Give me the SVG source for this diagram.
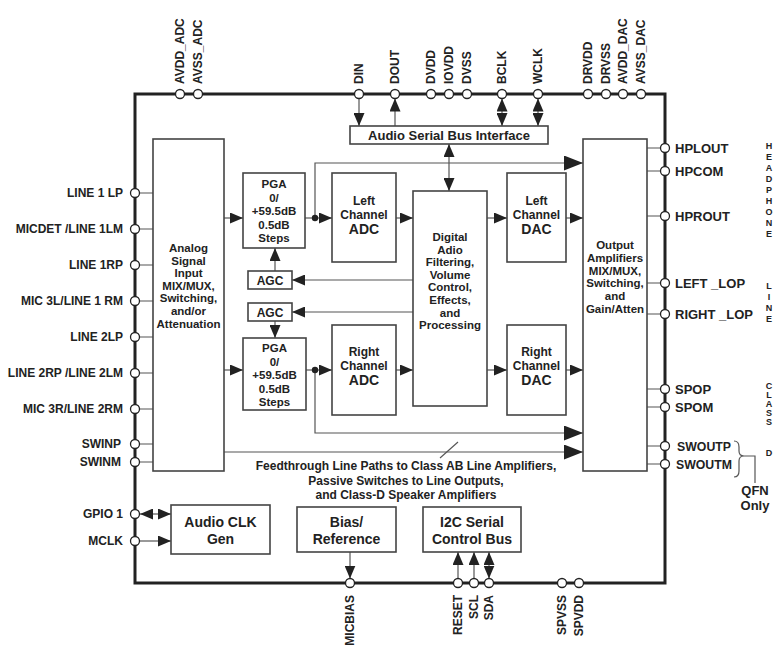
<svg xmlns="http://www.w3.org/2000/svg" width="774" height="651" viewBox="0 0 774 651">
<style>
.t{font-family:"Liberation Sans",Arial,Helvetica,sans-serif;font-weight:bold;fill:#222}
.s12{font-size:12px}.s11{font-size:11.5px}.s13{font-size:13px}.s14{font-size:14px}.s9{font-size:9px}
.m{text-anchor:middle}.e{text-anchor:end}
.pin{fill:#fff;stroke:#222;stroke-width:1.3}
.box{fill:#fff;stroke:#444;stroke-width:1.6}
.w{stroke:#555;stroke-width:1.2;fill:none}
.a{marker-end:url(#ar)}
.aa{marker-end:url(#ar);marker-start:url(#ar)}
.A{marker-end:url(#arL)}
</style>
<defs>
<marker id="ar" markerUnits="userSpaceOnUse" markerWidth="14" markerHeight="11" refX="13" refY="5.5" orient="auto-start-reverse"><path d="M0,0 L13,5.5 L0,11 z" fill="#222"/></marker>
<marker id="arL" markerUnits="userSpaceOnUse" markerWidth="20" markerHeight="15" refX="19" refY="7.5" orient="auto"><path d="M0,0 L19,7.5 L0,15 z" fill="#222"/></marker>
</defs>
<rect x="0" y="0" width="774" height="651" fill="#fff"/>
<rect id="chip" x="135" y="94" width="530" height="489" fill="none" stroke="#222" stroke-width="3"/>

<g id="connectors">
<path class="w" d="M139.5,193H153M139.5,229H153M139.5,265H153M139.5,301H153M139.5,337H153M139.5,373H153M139.5,409H153M139.5,444H153M139.5,462H153"/>
<path class="w" d="M647,148H660.5M647,171H660.5M647,216H660.5M647,283H660.5M647,314H660.5M647,389H660.5M647,407H660.5M647,446H660.5M647,464H660.5"/>
<line class="w a" x1="359" y1="98.5" x2="359" y2="126"/>
<line class="w a" x1="395" y1="126" x2="395" y2="98.5"/>
<line class="w aa" x1="502" y1="98.5" x2="502" y2="126"/>
<line class="w aa" x1="538" y1="98.5" x2="538" y2="126"/>
<line class="w aa" x1="449" y1="144" x2="449" y2="191"/>
<line class="w a" x1="224" y1="218" x2="243" y2="218"/>
<line class="w a" x1="224" y1="370" x2="243" y2="370"/>
<line class="w a" x1="305" y1="218" x2="332" y2="218"/>
<line class="w a" x1="306" y1="370" x2="332" y2="370"/>
<line class="w a" x1="396" y1="218" x2="413" y2="218"/>
<line class="w a" x1="396" y1="370" x2="413" y2="370"/>
<line class="w a" x1="487" y1="218" x2="507" y2="218"/>
<line class="w a" x1="487" y1="370" x2="507" y2="370"/>
<line class="w a" x1="566" y1="218" x2="583" y2="218"/>
<line class="w a" x1="566" y1="370" x2="583" y2="370"/>
<path class="w A" d="M315,218V163H583"/>
<path class="w A" d="M315,370V433H583"/>
<path class="w A" d="M224,452H583"/>
<circle cx="315" cy="218" r="3.2" fill="#222"/>
<circle cx="315" cy="370" r="3.2" fill="#222"/>
<line class="w a" x1="413" y1="280" x2="292" y2="280"/>
<line class="w a" x1="413" y1="312" x2="292" y2="312"/>
<line class="w a" x1="275" y1="271" x2="275" y2="248"/>
<line class="w a" x1="275" y1="321" x2="275" y2="338"/>
<line class="w" x1="440" y1="458" x2="458" y2="442" stroke-width="0.8"/>
<line class="w aa" x1="140" y1="514" x2="171" y2="514"/>
<line class="w a" x1="139.5" y1="541" x2="171" y2="541"/>
<line class="w a" x1="350" y1="552" x2="350" y2="578.5"/>
<line class="w a" x1="458" y1="578.5" x2="458" y2="552"/>
<line class="w a" x1="474" y1="578.5" x2="474" y2="552"/>
<line class="w aa" x1="489" y1="578.5" x2="489" y2="552"/>
<path class="w" d="M734,441Q739,441 739,447L739,451Q739,456 744,456Q739,456 739,461L739,471Q739,477 734,477M744,456H755V483"/>
</g>

<g id="pins">
<circle class="pin" cx="180" cy="94" r="4.5"/><circle class="pin" cx="198" cy="94" r="4.5"/>
<circle class="pin" cx="359" cy="94" r="4.5"/><circle class="pin" cx="395" cy="94" r="4.5"/>
<circle class="pin" cx="431" cy="94" r="4.5"/><circle class="pin" cx="449" cy="94" r="4.5"/>
<circle class="pin" cx="467" cy="94" r="4.5"/><circle class="pin" cx="502" cy="94" r="4.5"/>
<circle class="pin" cx="538" cy="94" r="4.5"/><circle class="pin" cx="588" cy="94" r="4.5"/>
<circle class="pin" cx="606" cy="94" r="4.5"/><circle class="pin" cx="623" cy="94" r="4.5"/>
<circle class="pin" cx="641" cy="94" r="4.5"/>
<circle class="pin" cx="135" cy="193" r="4.5"/><circle class="pin" cx="135" cy="229" r="4.5"/>
<circle class="pin" cx="135" cy="265" r="4.5"/><circle class="pin" cx="135" cy="301" r="4.5"/>
<circle class="pin" cx="135" cy="337" r="4.5"/><circle class="pin" cx="135" cy="373" r="4.5"/>
<circle class="pin" cx="135" cy="409" r="4.5"/><circle class="pin" cx="135" cy="444" r="4.5"/>
<circle class="pin" cx="135" cy="462" r="4.5"/><circle class="pin" cx="135" cy="514" r="4.5"/>
<circle class="pin" cx="135" cy="541" r="4.5"/>
<circle class="pin" cx="665" cy="148" r="4.5"/><circle class="pin" cx="665" cy="171" r="4.5"/>
<circle class="pin" cx="665" cy="216" r="4.5"/><circle class="pin" cx="665" cy="283" r="4.5"/>
<circle class="pin" cx="665" cy="314" r="4.5"/><circle class="pin" cx="665" cy="389" r="4.5"/>
<circle class="pin" cx="665" cy="407" r="4.5"/><circle class="pin" cx="665" cy="446" r="4.5"/>
<circle class="pin" cx="665" cy="464" r="4.5"/>
<circle class="pin" cx="350" cy="583" r="4.5"/><circle class="pin" cx="458" cy="583" r="4.5"/>
<circle class="pin" cx="474" cy="583" r="4.5"/><circle class="pin" cx="489" cy="583" r="4.5"/>
<circle class="pin" cx="562" cy="583" r="4.5"/><circle class="pin" cx="579" cy="583" r="4.5"/>
</g>

<g id="pin-labels" class="t s12">
<text transform="translate(184.3,84) rotate(-90)">AVDD_ADC</text>
<text transform="translate(202.3,84) rotate(-90)">AVSS_ADC</text>
<text transform="translate(363.3,84) rotate(-90)">DIN</text>
<text transform="translate(399.3,84) rotate(-90)">DOUT</text>
<text transform="translate(435.3,84) rotate(-90)">DVDD</text>
<text transform="translate(453.3,84) rotate(-90)">IOVDD</text>
<text transform="translate(471.3,84) rotate(-90)">DVSS</text>
<text transform="translate(506.3,84) rotate(-90)">BCLK</text>
<text transform="translate(542.3,84) rotate(-90)">WCLK</text>
<text transform="translate(592.3,84) rotate(-90)">DRVDD</text>
<text transform="translate(610.3,84) rotate(-90)">DRVSS</text>
<text transform="translate(627.3,84) rotate(-90)">AVDD_DAC</text>
<text transform="translate(645.3,84) rotate(-90)">AVSS_DAC</text>
<text class="e" transform="translate(354.3,595) rotate(-90)">MICBIAS</text>
<text class="e" transform="translate(462.3,595) rotate(-90)">RESET</text>
<text class="e" transform="translate(478.3,595) rotate(-90)">SCL</text>
<text class="e" transform="translate(493.3,595) rotate(-90)">SDA</text>
<text class="e" transform="translate(566.3,595) rotate(-90)">SPVSS</text>
<text class="e" transform="translate(583.3,595) rotate(-90)">SPVDD</text>
<text class="e" x="123" y="197">LINE 1 LP</text>
<text class="e" x="123" y="233">MICDET /LINE 1LM</text>
<text class="e" x="123" y="269">LINE 1RP</text>
<text class="e" x="123" y="305">MIC 3L/LINE 1 RM</text>
<text class="e" x="123" y="341">LINE 2LP</text>
<text class="e" x="123" y="377">LINE 2RP /LINE 2LM</text>
<text class="e" x="123" y="413">MIC 3R/LINE 2RM</text>
<text class="e" x="121" y="448">SWINP</text>
<text class="e" x="121" y="466">SWINM</text>
<text class="e" x="123" y="518">GPIO 1</text>
<text class="e" x="123" y="545">MCLK</text>
</g>
<g id="right-labels" class="t s13">
<text x="675" y="152.5">HPLOUT</text>
<text x="675" y="175.5">HPCOM</text>
<text x="675" y="220.5">HPROUT</text>
<text x="675" y="287.5">LEFT _LOP</text>
<text x="675" y="318.5">RIGHT _LOP</text>
<text x="675" y="393.5">SPOP</text>
<text x="675" y="411.5">SPOM</text>
<text x="677" y="450.5" textLength="54" lengthAdjust="spacingAndGlyphs">SWOUTP</text>
<text x="676" y="468.5" textLength="56" lengthAdjust="spacingAndGlyphs">SWOUTM</text>
<text class="m" x="755" y="495">QFN</text>
<text class="m" x="755" y="510">Only</text>
</g>
<g id="side-labels" class="t s9 m">
<text x="769" y="148.5">H<tspan x="769" dy="11">E</tspan><tspan x="769" dy="11">A</tspan><tspan x="769" dy="11">D</tspan><tspan x="769" dy="11">P</tspan><tspan x="769" dy="11">H</tspan><tspan x="769" dy="11">O</tspan><tspan x="769" dy="11">N</tspan><tspan x="769" dy="11">E</tspan></text>
<text x="769" y="288.5">L<tspan x="769" dy="11">I</tspan><tspan x="769" dy="11">N</tspan><tspan x="769" dy="11">E</tspan></text>
<text x="769" y="388.5">C<tspan x="769" dy="9">L</tspan><tspan x="769" dy="9">A</tspan><tspan x="769" dy="9">S</tspan><tspan x="769" dy="9">S</tspan><tspan x="769" dy="31">D</tspan></text>
</g>

<g id="serial-bus">
<rect class="box" x="350" y="126" width="198" height="18"/>
<text class="t s13 m" x="449" y="140">Audio Serial Bus Interface</text>
</g>
<g id="analog-input">
<rect class="box" x="153" y="139" width="71" height="332"/>
<text class="t s11 m" x="188.5" y="252">Analog<tspan x="188.5" dy="12.6">Signal</tspan><tspan x="188.5" dy="12.6">Input</tspan><tspan x="188.5" dy="12.6">MIX/MUX,</tspan><tspan x="188.5" dy="12.6">Switching,</tspan><tspan x="188.5" dy="12.6">and/or</tspan><tspan x="188.5" dy="12.6">Attenuation</tspan></text>
</g>
<g id="pga-left">
<rect class="box" x="243" y="173" width="62" height="75"/>
<text class="t s11 m" x="274" y="188">PGA<tspan x="274" dy="13.5">0/</tspan><tspan x="274" dy="13.5">+59.5dB</tspan><tspan x="274" dy="13.5">0.5dB</tspan><tspan x="274" dy="13.5">Steps</tspan></text>
</g>
<g id="pga-right">
<rect class="box" x="243" y="338" width="63" height="72"/>
<text class="t s11 m" x="274.5" y="352">PGA<tspan x="274.5" dy="13.5">0/</tspan><tspan x="274.5" dy="13.5">+59.5dB</tspan><tspan x="274.5" dy="13.5">0.5dB</tspan><tspan x="274.5" dy="13.5">Steps</tspan></text>
</g>
<g id="agc-left">
<rect class="box" x="248" y="271" width="44" height="18"/>
<text class="t s12 m" x="270" y="284.5">AGC</text>
</g>
<g id="agc-right">
<rect class="box" x="248" y="303" width="44" height="18"/>
<text class="t s12 m" x="270" y="316.5">AGC</text>
</g>
<g id="adc-left">
<rect class="box" x="332" y="173" width="64" height="89"/>
<text class="t s12 m" x="364" y="205">Left<tspan x="364" dy="13.5">Channel</tspan><tspan x="364" dy="15.5" font-size="14">ADC</tspan></text>
</g>
<g id="adc-right">
<rect class="box" x="332" y="325" width="64" height="90"/>
<text class="t s12 m" x="364" y="356">Right<tspan x="364" dy="13.5">Channel</tspan><tspan x="364" dy="15.5" font-size="14">ADC</tspan></text>
</g>
<g id="dsp">
<rect class="box" x="413" y="191" width="74" height="215"/>
<text class="t s11 m" x="450" y="241">Digital<tspan x="450" dy="12.6">Adio</tspan><tspan x="450" dy="12.6">Filtering,</tspan><tspan x="450" dy="12.6">Volume</tspan><tspan x="450" dy="12.6">Control,</tspan><tspan x="450" dy="12.6">Effects,</tspan><tspan x="450" dy="12.6">and</tspan><tspan x="450" dy="12.6">Processing</tspan></text>
</g>
<g id="dac-left">
<rect class="box" x="507" y="173" width="59" height="89"/>
<text class="t s12 m" x="536.5" y="205">Left<tspan x="536.5" dy="13.5">Channel</tspan><tspan x="536.5" dy="15.5" font-size="14">DAC</tspan></text>
</g>
<g id="dac-right">
<rect class="box" x="507" y="325" width="59" height="90"/>
<text class="t s12 m" x="536.5" y="356">Right<tspan x="536.5" dy="13.5">Channel</tspan><tspan x="536.5" dy="15.5" font-size="14">DAC</tspan></text>
</g>
<g id="output-amp">
<rect class="box" x="583" y="139" width="64" height="332"/>
<text class="t s11 m" x="615" y="249">Output<tspan x="615" dy="12.8">Amplifiers</tspan><tspan x="615" dy="12.8">MIX/MUX,</tspan><tspan x="615" dy="12.8">Switching,</tspan><tspan x="615" dy="12.8">and</tspan><tspan x="615" dy="12.8">Gain/Atten</tspan></text>
</g>
<g id="feedthrough-label">
<text class="t s12 m" x="406" y="470">Feedthrough Line Paths to Class AB Line Amplifiers,<tspan x="406" dy="14.5">Passive Switches to Line Outputs,</tspan><tspan x="406" dy="14.5">and Class-D Speaker Amplifiers</tspan></text>
</g>
<g id="clk-gen">
<rect class="box" x="171" y="505" width="99" height="49"/>
<text class="t s14 m" x="220.5" y="527">Audio CLK<tspan x="220.5" dy="16.5">Gen</tspan></text>
</g>
<g id="bias">
<rect class="box" x="297" y="507" width="99" height="45"/>
<text class="t s14 m" x="346.5" y="527">Bias/<tspan x="346.5" dy="16.5">Reference</tspan></text>
</g>
<g id="i2c">
<rect class="box" x="423" y="507" width="98" height="45"/>
<text class="t s14 m" x="472" y="527">I2C Serial<tspan x="472" dy="16.5">Control Bus</tspan></text>
</g>
</svg>
